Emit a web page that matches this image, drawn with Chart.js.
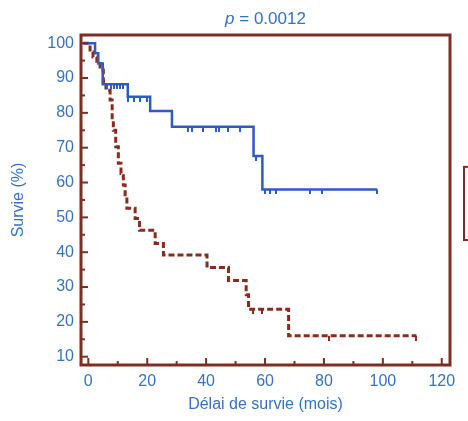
<!DOCTYPE html>
<html><head><meta charset="utf-8">
<script src="https://cdn.jsdelivr.net/npm/chart.js@4.4.0/dist/chart.umd.min.js"></script>
<style>html,body{margin:0;padding:0;background:#fff;} #c{display:block;}</style>
</head><body>
<canvas id="c" width="468" height="421"></canvas>
<script>
// ---- data ----
const xTickValues = [0, 20, 40, 60, 80, 100, 120];
const yTickValues = [10, 20, 30, 40, 50, 60, 70, 80, 90, 100];
const titleP = 'p';
const titleRest = ' = 0.0012';
const xTitle = 'Délai de survie (mois)';
const yTitle = 'Survie (%)';

// Blue group (solid): time of each drop (months) and survival after it (%)
const blueTimes = [-1.7, 2.3, 3.4, 4.9, 13.4, 21.0, 28.4, 56.1, 59.1, 98.1];
const blueSurv  = [100, 97.1, 94.2, 88.2, 84.6, 80.5, 76.0, 67.6, 58.0, 58.0];
const blueCensorTimes = [6.5, 7.6, 8.6, 9.6, 10.8, 11.9, 13.6, 15.4, 17.6, 19.8, 34.0, 35.2, 39.0, 43.4, 44.4, 47.4, 51.6, 57.0, 60.1, 61.6, 63.8, 75.2, 79.4, 98.1];
const blueCensorSurv  = [88.2, 88.2, 88.2, 88.2, 88.2, 88.2, 84.6, 84.6, 84.6, 84.6, 76.0, 76.0, 76.0, 76.0, 76.0, 76.0, 76.0, 67.6, 58.0, 58.0, 58.0, 58.0, 58.0, 58.0];

// Red group (dashed)
const redTimes = [-1.7, 0.6, 1.6, 2.9, 4.0, 5.1, 6.0, 7.4, 8.1, 8.5, 9.3, 10.2, 11.1, 11.9, 12.5, 13.1, 15.9, 17.4, 22.7, 25.5, 40.3, 47.6, 53.6, 54.4, 68.0, 111.4];
const redSurv  = [100, 97.5, 96.0, 94.2, 92.3, 89.0, 86.5, 83.7, 78.0, 75.0, 70.3, 65.5, 62.6, 59.3, 55.9, 52.6, 49.7, 46.3, 42.5, 39.2, 35.6, 31.9, 27.8, 23.6, 16.0, 16.0];
const redCensorTimes = [55.8, 58.9, 81.6, 111.4];
const redCensorSurv  = [23.6, 23.6, 16.0, 16.0];

// ---- styles ----
const BLUE = '#2b5cc6';
const TEXT_BLUE = '#3472c8';
const RED = '#8a2c1d';
const FRAME = '#7c2e22';
const FONT = "'Liberation Sans', Arial, sans-serif";

function censorMark(color) {
  const c = document.createElement('canvas');
  c.width = 2; c.height = 10;
  const g = c.getContext('2d');
  g.fillStyle = color;
  g.fillRect(0, 5, 2, 5);
  return c;
}

const pts = (xs, ys) => xs.map((x, i) => ({x: x, y: ys[i]}));

const framePlugin = {
  id: 'frame',
  afterDraw(chart) {
    const {ctx, chartArea: a, scales} = chart;
    ctx.save();
    ctx.strokeStyle = FRAME;
    ctx.lineWidth = 2;
    const xs = scales.x, ys = scales.y;
    for (let v = 0; v <= 120; v += 10) {
      const px = xs.getPixelForValue(v);
      const len = (v % 20 === 0) ? 7 : 4;
      ctx.beginPath(); ctx.moveTo(px, a.bottom); ctx.lineTo(px, a.bottom - len); ctx.stroke();
    }
    for (let v = 10; v <= 100; v += 5) {
      const py = ys.getPixelForValue(v);
      const len = (v % 10 === 0) ? 7 : 4;
      ctx.beginPath(); ctx.moveTo(a.left, py); ctx.lineTo(a.left + len, py); ctx.stroke();
    }
    ctx.lineWidth = 3;
    ctx.strokeRect(a.left, a.top, a.right - a.left, a.bottom - a.top);
    // partially visible legend box at right
    ctx.lineWidth = 2;
    ctx.strokeRect(a.right + 14, ys.getPixelForValue(64.5), 60, ys.getPixelForValue(43.5) - ys.getPixelForValue(64.5));
    // title with italic p
    ctx.fillStyle = TEXT_BLUE;
    ctx.textBaseline = 'middle';
    const cx = (a.left + a.right) / 2;
    ctx.font = 'italic 17px ' + FONT;
    const w1 = ctx.measureText(titleP).width;
    ctx.font = '17px ' + FONT;
    const w2 = ctx.measureText(titleRest).width;
    const x0 = cx - (w1 + w2) / 2;
    ctx.font = 'italic 17px ' + FONT;
    ctx.textAlign = 'left';
    ctx.fillText(titleP, x0, 19);
    ctx.font = '17px ' + FONT;
    ctx.fillText(titleRest, x0 + w1, 19);
    ctx.restore();
  }
};

new Chart(document.getElementById('c'), {
  type: 'line',
  data: {
    datasets: [
      { label: 'blue', data: pts(blueTimes, blueSurv), stepped: true, borderColor: BLUE, borderWidth: 2.5, pointRadius: 0, fill: false, tension: 0 },
      { label: 'blueCens', type: 'scatter', data: pts(blueCensorTimes, blueCensorSurv), showLine: false, pointStyle: censorMark(BLUE), pointRadius: 5, borderWidth: 0 },
      { label: 'red', data: pts(redTimes, redSurv), stepped: true, borderColor: RED, borderWidth: 3, borderDash: [6, 3], pointRadius: 0, fill: false, tension: 0 },
      { label: 'redCens', type: 'scatter', data: pts(redCensorTimes, redCensorSurv), showLine: false, pointStyle: censorMark(RED), pointRadius: 5, borderWidth: 0 }
    ]
  },
  options: {
    responsive: false,
    animation: false,
    events: [],
    layout: { padding: { left: 0, right: 18, top: 35, bottom: 0 } },
    plugins: { legend: { display: false }, title: { display: false }, tooltip: { enabled: false } },
    scales: {
      x: {
        type: 'linear', min: -2.48, max: 122.8,
        afterBuildTicks(s) { s.ticks = xTickValues.map(v => ({value: v})); },
        afterFit(s) { s.height = 56; },
        grid: { display: false, drawTicks: false },
        border: { display: false },
        ticks: { color: TEXT_BLUE, font: { family: FONT, size: 16 }, padding: 7, maxRotation: 0, autoSkip: false },
        title: { display: true, text: xTitle, color: TEXT_BLUE, font: { family: FONT, size: 16 }, padding: { top: 0, bottom: 7 } }
      },
      y: {
        type: 'linear', min: 7.62, max: 102.35,
        afterBuildTicks(s) { s.ticks = yTickValues.map(v => ({value: v})); },
        afterFit(s) { s.width = 81; },
        grid: { display: false, drawTicks: false },
        border: { display: false },
        ticks: { color: TEXT_BLUE, font: { family: FONT, size: 16 }, padding: 7, autoSkip: false },
        title: { display: true, text: yTitle, color: TEXT_BLUE, font: { family: FONT, size: 16 }, padding: { top: 9, bottom: 0 } }
      }
    }
  },
  plugins: [framePlugin]
});
</script>
</body></html>
